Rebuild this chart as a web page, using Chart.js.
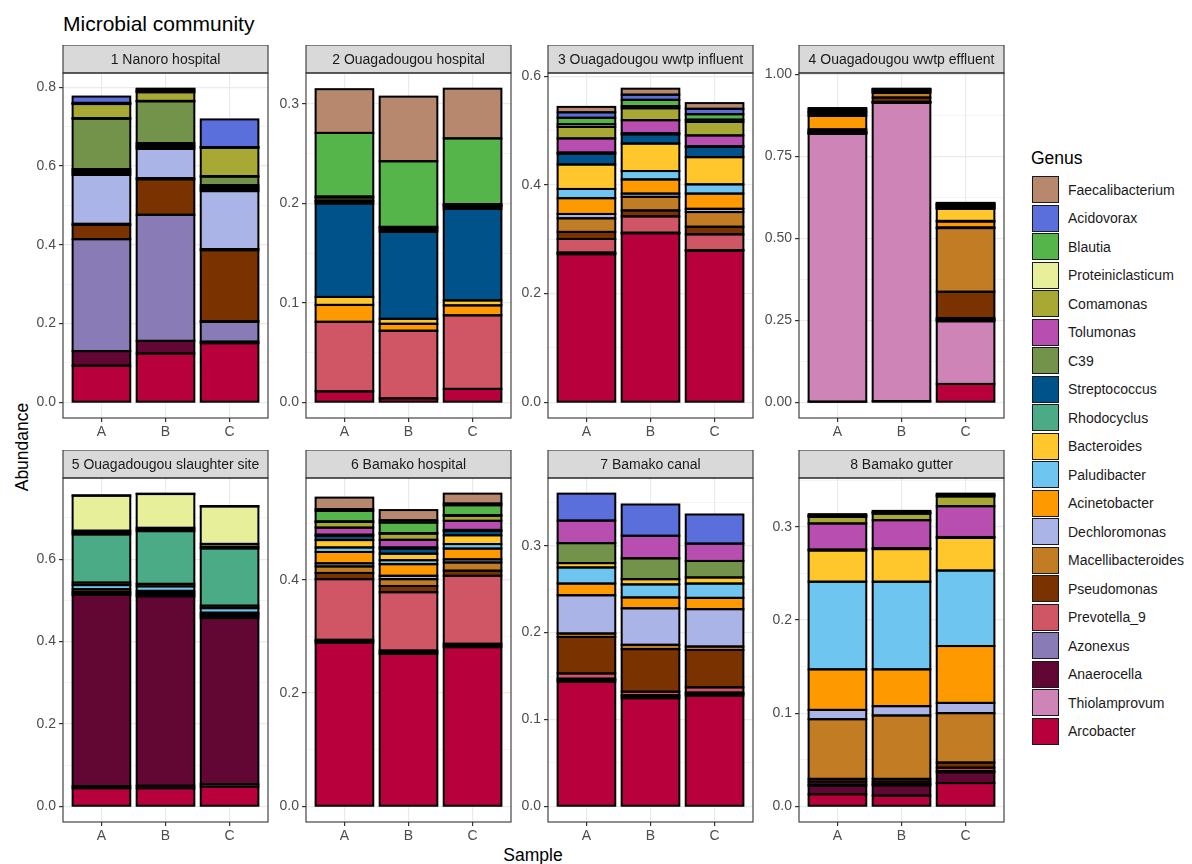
<!DOCTYPE html>
<html><head><meta charset="utf-8">
<script src="https://cdn.jsdelivr.net/npm/chart.js@4.4.1/dist/chart.umd.min.js"></script>
<style>
body{margin:0;background:#fff;width:1192px;height:864px;position:relative;overflow:hidden;font-family:"Liberation Sans",Arial,Helvetica,sans-serif;}
canvas{position:absolute;}
.t{position:absolute;color:#000;white-space:nowrap;}
.key{position:absolute;box-sizing:border-box;width:27px;height:27px;border:1.5px solid #1a1a1a;}
.lab{position:absolute;font-size:14px;line-height:16px;color:#1a1a1a;white-space:nowrap;}
</style></head><body>
<div class="t" style="left:63px;top:12px;font-size:21px;line-height:24px;">Microbial community</div>
<div class="t" style="left:503px;top:845px;font-size:17.5px;line-height:20px;width:60px;text-align:center;">Sample</div>
<div class="t" style="left:-28px;top:437px;width:100px;text-align:center;font-size:17.5px;line-height:20px;transform:rotate(-90deg);">Abundance</div>
<div class="t" style="left:1031px;top:148px;font-size:17.5px;line-height:20px;">Genus</div>
<div id="legend"></div>
<script>
// ---- data ----
const samples = ['A', 'B', 'C'];
const panels = ['1 Nanoro hospital', '2 Ouagadougou hospital', '3 Ouagadougou wwtp influent', '4 Ouagadougou wwtp effluent',
                '5 Ouagadougou slaughter site', '6 Bamako hospital', '7 Bamako canal', '8 Bamako gutter'];
// stacking order, bottom to top
const genera = ['Arcobacter', 'Thiolamprovum', 'Anaerocella', 'Azonexus', 'Prevotella_9', 'Pseudomonas', 'Macellibacteroides',
                'Dechloromonas', 'Acinetobacter', 'Paludibacter', 'Bacteroides', 'Rhodocyclus', 'Streptococcus', 'C39',
                'Tolumonas', 'Comamonas', 'Proteiniclasticum', 'Blautia', 'Acidovorax', 'Faecalibacterium'];
const colors = ['#B8003D', '#CF84B8', '#620733', '#897BB6', '#D05565', '#7A3300', '#C27D24',
                '#AAB4E6', '#FF9900', '#6EC6F0', '#FFC72C', '#4BAB86', '#00528A', '#73924A',
                '#B84FB0', '#A8A834', '#E8EF9A', '#55B54A', '#5B6FDC', '#B8886E'];
// values: panel 1 A,B,C, panel 2 A,B,C, ... panel 8 A,B,C
const arcobacter         = [.093,.124,.150, .011,.004,.0135, .2725,.311,.279, .002,.004,.056, .044,.044,.048, .289,.269,.281, .1435,.1245,.1275, .013,.0115,.025];
const thiolamprovum      = [0,0,0, 0,0,0, 0,0,0, .816,.909,.191, .005,.006,.006, 0,0,0, 0,0,0, 0,0,0];
const anaerocella        = [.037,.032,.004, 0,0,0, .0015,.001,.001, .002,.001,.004, .464,.460,.403, .003,.003,.003, .002,.002,.002, .009,.011,.0115];
const azonexus           = [.284,.320,.050, 0,0,0, .0015,0,0, .001,.001,.002, 0,0,0, .002,.003,.003, .0015,.0015,.0015, .0015,.0015,.0015];
const prevotella9        = [0,0,.002, .070,.068,.074, .025,.030,.029, .002,.001,.004, 0,0,0, .107,.103,.120, .006,.004,.006, .003,.0025,.0035];
const pseudomonas        = [.036,.090,.180, 0,0,0, .013,.011,.014, .002,.013,.080, .004,.004,.005, .011,.011,.009, .042,.049,.043, .003,.003,.0055];
const macellibacteroides = [.003,.003,.003, 0,0,0, .025,.025,.027, .004,.014,.194, .004,.004,.004, .0115,.012,.0145, .004,.005,.004, .064,.068,.053];
const dechloromonas      = [.124,.074,.147, 0,0,0, .008,.006,.006, .003,.002,.002, 0,0,0, .0055,.006,.0055, .044,.042,.043, .010,.010,.011];
const acinetobacter      = [0,.004,.004, .017,.007,.010, .029,.026,.028, .041,.003,.018, .006,.005,.004, .020,.0205,.019, .0135,.0125,.013, .0435,.0395,.061];
const paludibacter       = [.004,.003,.003, 0,0,0, .017,.0155,.017, .004,0,.002, .010,.011,.011, .008,.007,.008, .0185,.015,.0165, .094,.094,.081];
const bacteroides        = [.004,.004,.004, .008,.005,.005, .045,.0505,.050, .005,.003,.037, .006,.006,.006, .013,.0115,.0155, .005,.006,.007, .0335,.035,.035];
const rhodocyclus        = [.003,0,0, 0,0,0, 0,0,0, 0,0,.001, .117,.128,.139, 0,0,0, 0,0,0, 0,0,0];
const streptococcus      = [.004,.004,.004, .094,.0875,.092, .020,.017,.019, 0,0,.002, 0,0,0, .0075,.009,.0075, 0,0,0, .001,.001,.001];
const c39                = [.128,.106,.022, .002,.002,.002, .002,.002,.001, 0,0,.002, .004,.004,.004, .002,.002,.002, .023,.024,.019, 0,0,0];
const tolumonas          = [.001,.001,.001, .001,0,.001, .026,.024,.020, .003,0,.003, 0,0,0, .0125,.0135,.016, .026,.026,.020, .028,.030,.033];
const comamonas          = [.036,.022,.072, .003,.002,.001, .021,.022,.025, .003,.002,.003, .005,.004,.007, .010,.011,.009, 0,0,0, .007,.007,.0105];
const proteiniclasticum  = [.001,.002,.001, .001,.001,.001, .005,.004,.004, 0,0,.001, .085,.082,.091, .001,.001,.001, 0,0,0, .001,.001,.001];
const blautia            = [.002,.002,.001, .064,.066,.066, .012,.0115,.010, 0,0,.002, .001,.001,.001, .0185,.0185,.0175, 0,0,0, .001,.001,.001];
const acidovorax         = [.016,.004,.070, 0,0,0, .010,.0095,.010, .006,.002,.003, 0,0,0, .003,.004,.003, .031,.036,.0335, .001,.001,.001];
const faecalibacterium   = [0,.001,0, .044,.065,.050, .010,.011,.0105, .003,.001,.001, 0,0,0, .0205,.018,.0175, 0,0,0, 0,0,0];
// y tick labels per panel
const yTicks = [[0,0.2,0.4,0.6,0.8],[0,0.1,0.2,0.3],[0,0.2,0.4,0.6],[0,0.25,0.5,0.75,1],
                [0,0.2,0.4,0.6],[0,0.2,0.4],[0,0.1,0.2,0.3],[0,0.1,0.2,0.3]];
const yDecimals = [1,1,1,2,1,1,1,1];

const series = [arcobacter, thiolamprovum, anaerocella, azonexus, prevotella9, pseudomonas, macellibacteroides,
                dechloromonas, acinetobacter, paludibacter, bacteroides, rhodocyclus, streptococcus, c39,
                tolumonas, comamonas, proteiniclasticum, blautia, acidovorax, faecalibacterium];

// ---- layout ----
const FONT = '"Liberation Sans", Arial, Helvetica, sans-serif';
const colLeft = [63, 306, 548, 799];
const plotW = 205;
const stripTop = [45, 450];
const stripH = 28;
const plotH = [345, 344];
const AXW = 50, XH = 40, RPAD = 4;
const BAR_LW = 2;

const facetPlugin = {
  id: 'facet',
  afterDatasetsDraw(chart) {
    const ctx = chart.ctx;
    ctx.save();
    ctx.strokeStyle = '#000';
    ctx.lineWidth = BAR_LW;
    chart.data.datasets.forEach((d, i) => {
      chart.getDatasetMeta(i).data.forEach(el => {
        const p = el.getProps(['x', 'y', 'base', 'width'], true);
        ctx.strokeRect(p.x - p.width / 2, Math.min(p.y, p.base), p.width, Math.abs(p.base - p.y));
      });
    });
    ctx.restore();
  },
  afterDraw(chart) {
    const a = chart.chartArea, ctx = chart.ctx;
    ctx.save();
    ctx.fillStyle = '#D9D9D9';
    ctx.fillRect(a.left, a.top - stripH, a.right - a.left, stripH);
    ctx.strokeStyle = '#333333';
    ctx.lineWidth = 1.1;
    ctx.strokeRect(a.left, a.top - stripH, a.right - a.left, stripH);
    ctx.strokeRect(a.left, a.top, a.right - a.left, a.bottom - a.top);
    ctx.fillStyle = '#1A1A1A';
    ctx.font = '14px ' + FONT;
    ctx.textAlign = 'center';
    ctx.textBaseline = 'middle';
    ctx.fillText(chart.options.plugins.facet.label, (a.left + a.right) / 2, a.top - stripH / 2 + 1);
    ctx.restore();
  }
};

panels.forEach((name, p) => {
  const r = Math.floor(p / 4), c = p % 4;
  const cv = document.createElement('canvas');
  const W = AXW + plotW + RPAD, H = stripH + plotH[r] + XH;
  cv.width = W; cv.height = H;
  cv.style.left = (colLeft[c] - AXW) + 'px';
  cv.style.top = stripTop[r] + 'px';
  cv.style.width = W + 'px'; cv.style.height = H + 'px';
  document.body.appendChild(cv);

  let maxTot = 0;
  samples.forEach((s, si) => {
    let t = 0; series.forEach(arr => t += arr[p * 3 + si]);
    maxTot = Math.max(maxTot, t);
  });
  const ymin = -0.05 * maxTot, ymax = 1.05 * maxTot;
  const majors = yTicks[p];
  const step = majors[1] - majors[0];
  const tickObjs = [];
  for (let v = majors[0] - step / 2; v <= ymax + 1e-9; v += step / 2) {
    if (v < ymin - 1e-9) continue;
    const isMajor = majors.some(m => Math.abs(m - v) < 1e-9);
    tickObjs.push({ value: v, minor: !isMajor });
  }
  const dec = yDecimals[p];

  const datasets = genera.map((g, gi) => ({
    label: g,
    backgroundColor: colors[gi],
    borderWidth: 0,
    data: samples.map((s, si) => {
      const v = series[gi][p * 3 + si];
      return v > 0 ? { x: si + 1, y: v } : null;
    }).filter(Boolean)
  }));

  new Chart(cv, {
    type: 'bar',
    data: { datasets },
    plugins: [facetPlugin],
    options: {
      animation: false, responsive: false, devicePixelRatio: 1,
      layout: { padding: { top: stripH, right: RPAD, left: 0, bottom: 0 } },
      plugins: { legend: { display: false }, tooltip: { enabled: false }, facet: { label: name } },
      datasets: { bar: { barPercentage: 0.9, categoryPercentage: 1 } },
      scales: {
        x: {
          type: 'linear', min: 0.4, max: 3.6, stacked: true, offset: false,
          afterBuildTicks: s => { s.ticks = samples.map((_, i) => ({ value: i + 1 })); },
          afterFit: s => { s.height = XH; },
          ticks: { callback: v => samples[Math.round(v) - 1] ?? '', font: { size: 14, family: FONT }, color: '#4D4D4D',
                   padding: 2, autoSkip: false, maxRotation: 0 },
          grid: { offset: false, color: '#EBEBEB', lineWidth: 1.2, tickLength: 4, tickColor: '#333333' },
          border: { display: false }
        },
        y: {
          type: 'linear', min: ymin, max: ymax, stacked: true,
          afterBuildTicks: s => { s.ticks = tickObjs.map(t => ({ value: t.value, minor: t.minor })); },
          afterFit: s => { s.width = AXW; },
          ticks: { callback: (v, i, ts) => (ts[i] && ts[i].minor) ? '' : v.toFixed(dec),
                   font: { size: 14, family: FONT }, color: '#4D4D4D', padding: 3, autoSkip: false },
          grid: { offset: false, color: '#EBEBEB',
                  lineWidth: ctx => (ctx.tick && ctx.tick.minor) ? 0.6 : 1.2,
                  tickLength: 4,
                  tickColor: ctx => (ctx.tick && ctx.tick.minor) ? 'rgba(0,0,0,0)' : '#333333' },
          border: { display: false }
        }
      }
    }
  });
});

// ---- legend (top to bottom = reverse of stacking order) ----
const leg = document.getElementById('legend');
genera.slice().reverse().forEach((g, i) => {
  const gi = genera.length - 1 - i;
  const top = 176 + i * 28.5;
  const k = document.createElement('div');
  k.className = 'key';
  k.style.left = '1032px'; k.style.top = top + 'px'; k.style.background = colors[gi];
  leg.appendChild(k);
  const l = document.createElement('div');
  l.className = 'lab';
  l.style.left = '1068px'; l.style.top = (top + 5.5) + 'px';
  l.textContent = g;
  leg.appendChild(l);
});
</script>
</body></html>
